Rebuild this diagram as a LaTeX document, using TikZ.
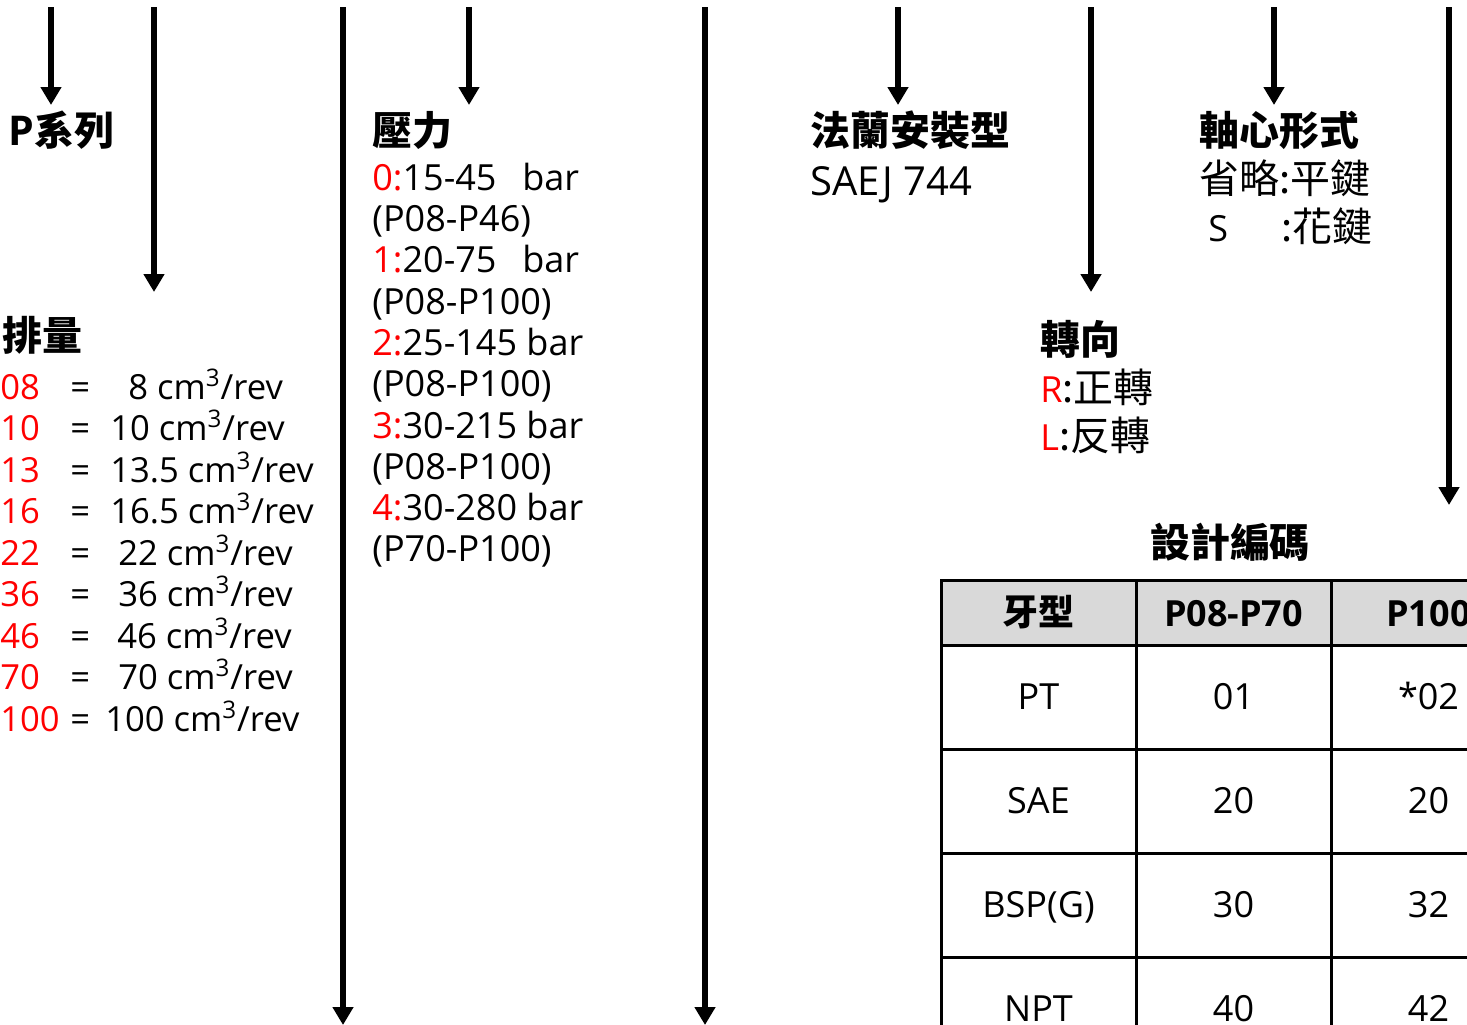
\documentclass[tikz,border=0pt]{standalone}
\usepackage{fontspec}
\setmainfont{Open Sans}
\newfontfamily\cjkf{Noto Sans CJK TC}[Scale=1.11]
\newfontfamily\cjks{Noto Sans CJK TC}
\newcommand{\zh}[1]{{\cjkf #1}}
\usetikzlibrary{arrows.meta}
\definecolor{hdr}{HTML}{D9D9D9}
\definecolor{cred}{HTML}{FF0000}
\begin{document}
\begin{tikzpicture}[x=0.5pt,y=-0.5pt,
  txt/.style={anchor=base west,inner sep=0pt,font=\fontsize{18}{21}\selectfont},
  dtxt/.style={anchor=base west,inner sep=0pt,font=\fontsize{17.3}{21}\selectfont},
  ttl/.style={anchor=base west,inner sep=0pt,font=\fontsize{18}{21}\selectfont\bfseries},
  ctxt/.style={anchor=base,inner sep=0pt,font=\fontsize{18}{21}\selectfont},
  cttl/.style={anchor=base,inner sep=0pt,font=\fontsize{18}{21}\selectfont\bfseries},
  arr/.style={line width=2.8pt,-{Triangle[width=10pt,length=9pt]}},
  grid/.style={line width=1.5pt,line cap=rect}]
\useasboundingbox (0,0) rectangle (1467,1024);
\fill[white] (0,0) rectangle (1467,1024);

% arrows
\foreach \n/\x/\e in {a/51/105,b/154/292,c/343/1025,d/469/105,e/705/1025,f/898/105,g/1091/292,h/1274/105,i/1449/505}{
  \coordinate (s\n) at (\x,7);
  \coordinate (t\n) at (\x,\e);
  \draw[arr] (s\n) -- (t\n);
}

% P series
\node[ttl] (pser) at (8,145) {{\fontsize{20.5}{21}\selectfont P}\zh{系列}};

% displacement
\node[ttl] (disp) at (2,350) {\zh{排量}};
\foreach \k/\num/\vx/\val in {0/08/128/8,1/10/110/10,2/13/110/13.5,3/16/110/16.5,4/22/118/22,5/36/118/36,6/46/117/46,7/70/118/70,8/100/105/100}{
  \pgfmathsetmacro{\yy}{399+41.5*\k}
  \node[dtxt,text=cred] (dn\k) at (0,\yy) {\num};
  \node[dtxt] (de\k) at (70,\yy) {=};
  \node[dtxt] (dv\k) at (\vx,\yy) {\val{} cm\textsuperscript{3}/rev};
}

% pressure
\node[ttl] (pres) at (372,145) {\zh{壓力}};
\node[txt] (p0) at (372,190) {\textcolor{cred}{0:}15-45};
\node[txt] (p0b) at (522,190) {bar};
\node[txt] (p0r) at (372,231) {(P08-P46)};
\node[txt] (p1) at (372,272) {\textcolor{cred}{1:}20-75};
\node[txt] (p1b) at (522,272) {bar};
\node[txt] (p1r) at (372,314) {(P08-P100)};
\node[txt] (p2) at (372,355) {\textcolor{cred}{2:}25-145 bar};
\node[txt] (p2r) at (372,396) {(P08-P100)};
\node[txt] (p3) at (372,438) {\textcolor{cred}{3:}30-215 bar};
\node[txt] (p3r) at (372,479) {(P08-P100)};
\node[txt] (p4) at (372,520) {\textcolor{cred}{4:}30-280 bar};
\node[txt] (p4r) at (372,561) {(P70-P100)};

% flange
\node[ttl] (flg) at (810,145) {\zh{法蘭安裝型}};
\node[txt,font=\fontsize{20}{22}\selectfont] (flgv) at (810,195) {SAEJ 744};

% shaft
\node[ttl] (sft) at (1199,145) {\zh{軸心形式}};
\node[txt] (sft1) at (1199,193) {\zh{省略:平鍵}};
\node[txt] (sft2) at (1208,241) {S};
\node[txt] (sft3) at (1281,241) {\zh{:花鍵}};

% rotation
\node[ttl] (rot) at (1040,354) {\zh{轉向}};
\node[txt] (rotr) at (1040,402) {\textcolor{cred}{R}\zh{:正轉}};
\node[txt] (rotl) at (1040,450) {\textcolor{cred}{L}\zh{:反轉}};

% design code
\node[cttl] (dc) at (1230,557) {\zh{設計編碼}};

% table
\fill[hdr] (941,580) rectangle (1526,645);
\foreach \yy in {580,645,749,853,957,1061}{\draw[grid] (941,\yy) -- (1526,\yy);}
\foreach \xx in {941,1136,1331,1526}{\draw[grid] (\xx,580) -- (\xx,1061);}
\node[cttl] (h1) at (1038.5,625) {{\cjks 牙型}};
\node[cttl] (h2) at (1233.5,626) {P08-P70};
\node[cttl] (h3) at (1428.5,626) {P100};
\foreach \r/\yy/\a/\b/\c in {1/709/PT/01/*02,2/813/SAE/20/20,3/917/BSP(G)/30/32,4/1021/NPT/40/42}{
  \node[ctxt] (r\r a) at (1038.5,\yy) {\a};
  \node[ctxt] (r\r b) at (1233.5,\yy) {\b};
  \node[ctxt] (r\r c) at (1428.5,\yy) {\c};
}
\end{tikzpicture}
\end{document}
